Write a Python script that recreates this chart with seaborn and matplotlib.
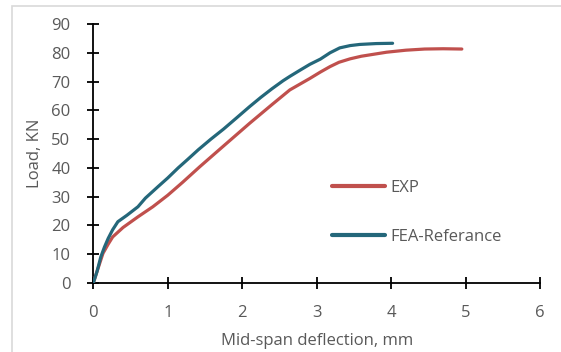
import matplotlib
matplotlib.use("Agg")
import matplotlib.pyplot as plt
import seaborn as sns
import pandas as pd
from matplotlib.patches import Rectangle

# Data
exp_x = [0, 0.05, 0.13, 0.2, 0.26, 0.4, 0.6, 0.8, 1.0, 1.2, 1.43, 1.7, 2.1, 2.4,
         2.64, 2.91, 3.05, 3.18, 3.3, 3.45, 3.6, 3.94, 4.2, 4.45, 4.7, 4.95]
exp_y = [0, 4, 10.3, 13.5, 16, 19.3, 23, 26.5, 30.5, 35, 40.4, 46.5, 55.5, 62,
         67.1, 71.1, 73.3, 75.2, 76.7, 77.9, 78.8, 80.2, 80.9, 81.3, 81.4, 81.3]
fea_x = [0, 0.05, 0.1, 0.15, 0.2, 0.26, 0.33, 0.45, 0.6, 0.7, 0.87, 1.0, 1.14, 1.27, 1.41,
         1.58, 1.75, 1.93, 2.1, 2.25, 2.4, 2.55, 2.64, 2.78, 2.91, 3.05, 3.18, 3.31, 3.45,
         3.58, 3.8, 4.02]
fea_y = [0, 4, 9, 12.5, 15.5, 18.5, 21.3, 23.5, 26.5, 29.5, 33.5, 36.5, 40, 43, 46.3,
         50, 53.5, 57.5, 61.3, 64.5, 67.5, 70.3, 71.8, 74, 76, 77.8, 80, 81.7, 82.5,
         82.9, 83.2, 83.3]
series_names = ["EXP", "FEA-Referance"]
x_ticks = [0, 1, 2, 3, 4, 5, 6]
y_ticks = [0, 10, 20, 30, 40, 50, 60, 70, 80, 90]

df = pd.concat([
    pd.DataFrame({"x": exp_x, "y": exp_y, "series": series_names[0]}),
    pd.DataFrame({"x": fea_x, "y": fea_y, "series": series_names[1]}),
], ignore_index=True)

sns.set_style("white")
plt.rcParams["font.family"] = ["Open Sans", "DejaVu Sans"]

fig = plt.figure(figsize=(5.61, 3.52), dpi=100)
fig.patches.append(Rectangle((12 / 561, -0.1), 1.2, 1 - 6 / 352 + 0.1,
                             transform=fig.transFigure, fill=False,
                             edgecolor="#d9d9d9", linewidth=1.2))
ax = fig.add_axes([93.3 / 561, 1 - 283 / 352, (540 - 93.3) / 561, (283 - 24) / 352])

palette = {"EXP": "#C0504D", "FEA-Referance": "#24677A"}
sns.lineplot(data=df, x="x", y="y", hue="series", palette=palette, sort=False,
             linewidth=2.3, ax=ax, estimator=None, solid_capstyle="round")

ax.set_xlim(0, 6)
ax.set_ylim(0, 90)
ax.set_xticks(x_ticks)
ax.set_yticks(y_ticks)
ax.margins(0)
for s in ["top", "right"]:
    ax.spines[s].set_visible(False)
for s in ["left", "bottom"]:
    ax.spines[s].set_color("black")
    ax.spines[s].set_linewidth(1.3)
    ax.spines[s].set_zorder(0)
ax.tick_params(axis="both", which="major", direction="inout", length=9, width=1.3,
               color="black", labelsize=12, labelcolor="#595959",
               bottom=True, left=True, top=False, right=False)
ax.tick_params(axis="x", pad=11)
ax.tick_params(axis="y", pad=12)
ax.set_xlabel("Mid-span deflection, mm", fontsize=12, color="#595959", labelpad=9)
ax.set_ylabel("Load, KN", fontsize=12, color="#595959", labelpad=6)
ax.grid(False)

leg = ax.legend(loc="upper left", bbox_to_anchor=(0.50, 0.455), frameon=False,
                fontsize=12, handlelength=3.2, handletextpad=0.3, labelspacing=1.95)
for t in leg.get_texts():
    t.set_color("#595959")
for l in leg.get_lines():
    l.set_linewidth(3)

fig.savefig("out.png", dpi=100)
